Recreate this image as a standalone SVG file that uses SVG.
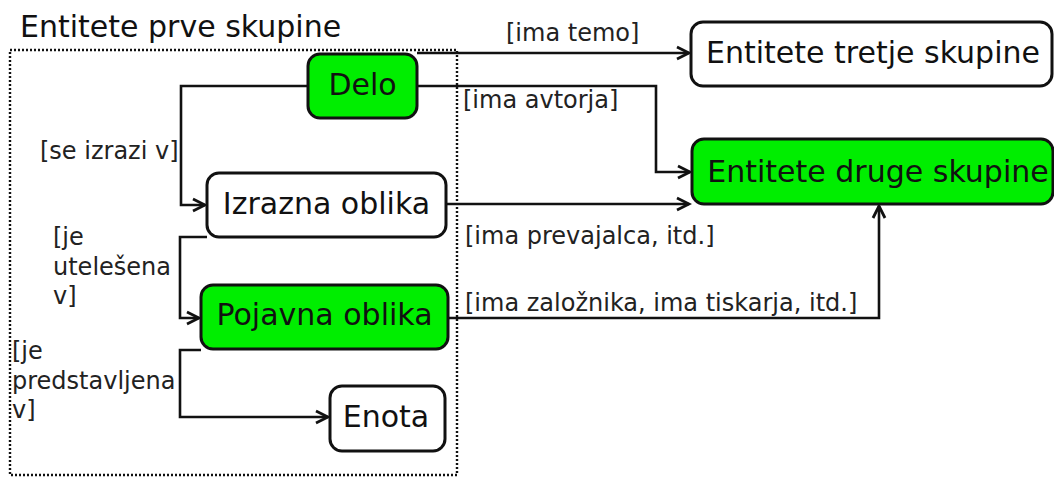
<svg xmlns="http://www.w3.org/2000/svg" width="1054" height="478" viewBox="0 0 1054 478">
<style>
.node{stroke:#111;stroke-width:3}
.g{fill:#00ee00}
.w{fill:#fff}
.nt{font-family:"DejaVu Sans",sans-serif;font-size:30px;fill:#111;text-anchor:middle}
.lb{font-family:"DejaVu Sans",sans-serif;font-size:24px;fill:#222}
.c{fill:none;stroke:#111;stroke-width:2.6}
</style>
<defs>
<marker id="arr" markerUnits="userSpaceOnUse" markerWidth="18" markerHeight="18" viewBox="-15 -9 18 18" refX="0" refY="0" orient="auto">
<path d="M-12,-6 L0,0 L-12,6" fill="none" stroke="#111" stroke-width="2.8"/>
</marker>
</defs>
<rect width="1054" height="478" fill="#fff"/>
<g id="group1">
<rect x="10" y="50" width="447" height="425" fill="none" stroke="#111" stroke-width="2.4" stroke-dasharray="2,2"/>
<text x="20" y="37" font-family="DejaVu Sans,sans-serif" font-size="30" fill="#111">Entitete prve skupine</text>
</g>
<g id="connectors">
<path class="c" d="M417,53 H689" marker-end="url(#arr)"/>
<path class="c" d="M417,86 H656 V172 H690" marker-end="url(#arr)"/>
<path class="c" d="M308,86 H181 V205 H205" marker-end="url(#arr)"/>
<path class="c" d="M446,204 H689" marker-end="url(#arr)"/>
<path class="c" d="M207,237 H180 V318 H199" marker-end="url(#arr)"/>
<path class="c" d="M448,318 H879 V206" marker-end="url(#arr)"/>
<path class="c" d="M201,350 H180 V417 H328" marker-end="url(#arr)"/>
<text class="lb" x="506" y="41">[ima temo]</text>
<text class="lb" x="463" y="108">[ima avtorja]</text>
<text class="lb" x="40" y="159">[se izrazi v]</text>
<text class="lb" x="465" y="244">[ima prevajalca, itd.]</text>
<text class="lb" x="465" y="311">[ima založnika, ima tiskarja, itd.]</text>
<text class="lb" x="53" y="245">[je</text>
<text class="lb" x="53" y="275">utelešena</text>
<text class="lb" x="53" y="304">v]</text>
<text class="lb" x="12" y="359">[je</text>
<text class="lb" x="12" y="389">predstavljena</text>
<text class="lb" x="12" y="418">v]</text>
</g>
<g id="delo">
<rect class="node g" x="308" y="54" width="109" height="64" rx="12"/>
<text class="nt" x="362.5" y="95">Delo</text>
</g>
<g id="izrazna">
<rect class="node w" x="207" y="173" width="239" height="64" rx="12"/>
<text class="nt" x="326.5" y="214">Izrazna oblika</text>
</g>
<g id="pojavna">
<rect class="node g" x="201" y="285" width="247" height="64" rx="12"/>
<text class="nt" x="324.5" y="325">Pojavna oblika</text>
</g>
<g id="enota">
<rect class="node w" x="330" y="386" width="115" height="65" rx="12"/>
<text class="nt" x="386" y="427">Enota</text>
</g>
<g id="tretje">
<rect class="node w" x="691" y="22" width="361" height="64" rx="12"/>
<text class="nt" x="873" y="63">Entitete tretje skupine</text>
</g>
<g id="druge">
<rect class="node g" x="692" y="139" width="361" height="65" rx="12"/>
<text class="nt" x="878" y="182">Entitete druge skupine</text>
</g>
</svg>
